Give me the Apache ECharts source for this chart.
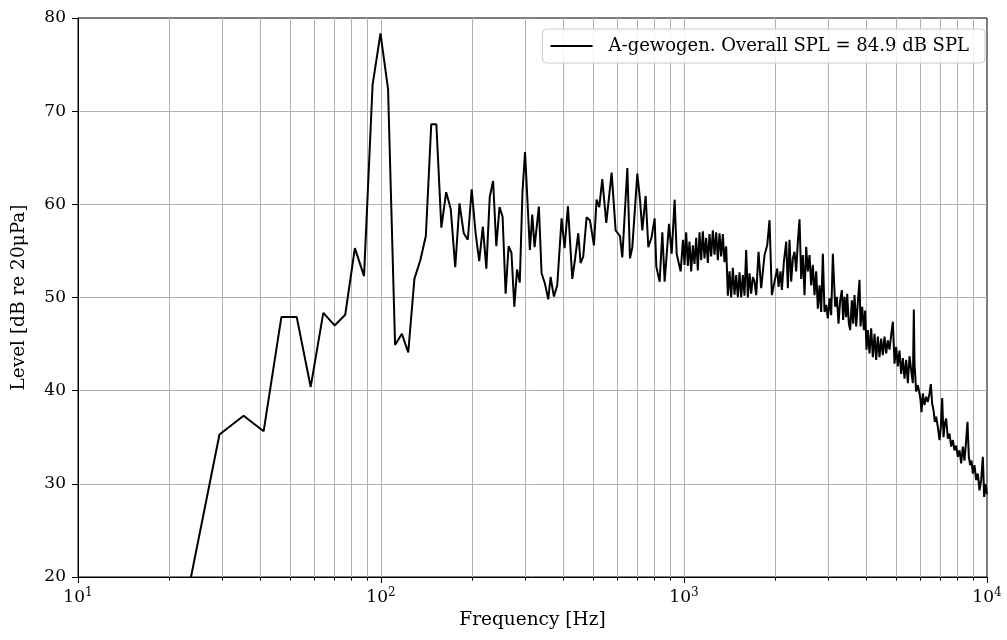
<!DOCTYPE html>
<html><head><meta charset="utf-8">
<script src="https://cdn.jsdelivr.net/npm/echarts@6/dist/echarts.min.js"></script>
<style>html,body{margin:0;padding:0;background:#fff}#c{width:1007px;height:640px}</style>
</head><body><div id="c"></div>
<script>
// Frequency (Hz) and A-weighted level (dB re 20 uPa)
const freqHz = [
23.4,29.3,35.2,41.0,46.9,52.7,58.6,64.5,70.3,76.2,82.0,87.9,93.8,99.6,105.5,111.3,117.2,123.0,128.9,134.8,
140.6,146.5,152.3,158.2,164.1,169.9,175.8,181.6,187.5,193.4,199.2,205.1,210.9,216.8,222.7,228.5,234.4,240.2,246.1,251.9,
257.8,263.7,269.5,275.4,281.2,287.1,293.0,298.8,
310.0,315.6,321.2,331.9,338.8,347.5,356.5,362.8,372.1,381.6,394.5,403.6,414.0,427.9,436.5,447.7,455.7,465.0,477.0,489.3,
504.4,514.7,525.3,537.4,554.0,577.0,594.8,614.7,625.7,650.1,663.4,675.2,701.4,715.7,728.5,747.2,762.5,782.1,800.1,810.3,
831.1,848.1,863.3,892.2,910.6,931.5,945.8,974.9,992.4,
1003.8,1016.6,1029.5,1042.7,1056.0,1069.4,1083.0,1096.9,1110.8,1125.0,1139.3,1153.9,1168.6,1183.5,1198.6,1213.9,1229.3,1245.0,1260.9,1277.0,
1293.2,1309.7,1326.4,1343.3,1360.4,1377.8,1395.3,1413.2,1431.2,1449.4,1467.9,1486.6,1505.6,1524.8,1544.2,1563.9,1583.9,1604.0,1624.5,1645.2,
1666.2,1687.4,
1709.0,1730.8,1761.8,1797.9,1844.0,1881.8,1915.4,1949.7,1989.6,2030.3,2051.0,2082.4,2103.6,2135.8,2174.0,2201.7,2229.7,2258.1,2286.9,2316.1,
2345.6,2375.5,2405.8,2436.4,2467.5,2498.9,2530.8,2563.0,2595.7,2628.8,2662.2,2696.2,2730.5,2765.3,2800.6,2836.3,2872.4,2909.0,2946.1,2983.6,
3021.6,3060.1,3099.1,
3154.7,3195.0,3235.7,3276.9,3318.7,3352.5,3386.6,3429.8,3455.9,3500.0,3535.6,3580.6,3617.1,3653.9,3700.5,3747.6,3795.4,3824.3,3873.0,3922.4,
3962.3,4002.7,4043.5,4095.0,4147.2,4200.1,4253.6,4307.8,4362.7,4418.3,4474.6,4531.6,4589.4,4647.9,4707.1,4767.1,4827.8,4889.4,4951.7,5014.8,
5078.7,5143.4,5209.0,5275.4,5342.6,
5411.0,5480.0,5549.8,5620.5,5692.1,5735.0,5764.7,5838.2,5912.6,5987.9,6033.6,6079.5,6141.4,6219.7,6298.9,6379.2,6460.5,6526.3,6592.8,6660.0,
6727.8,6796.3,6882.9,6970.5,7041.5,7113.2,7185.7,7258.8,7332.8,7426.2,7520.8,7616.6,7713.6,7811.9,7911.4,8012.2,8114.3,8217.6,8322.3,8428.3,
8535.7,8622.6,8710.4,8799.1,8888.7,8979.2,9093.6,9209.4,9326.7,9445.5,9565.8,9687.7,9786.3,9885.9,9986.7
];
const levelDb = [
19.4,35.3,37.3,35.65,47.9,47.9,40.4,48.35,47.0,48.15,55.3,52.3,72.8,78.35,72.4,44.9,46.1,44.1,52.0,54.0,
56.6,68.6,68.6,57.5,61.3,59.5,53.25,60.1,56.9,56.2,61.6,57.0,53.9,57.6,53.1,60.8,62.5,55.5,59.7,58.7,
50.4,55.5,54.8,49.0,53.0,51.6,61.3,65.6,
55.1,58.9,55.4,59.75,52.6,51.5,49.8,52.2,50.1,51.3,58.5,55.3,59.8,52.0,54.0,56.9,53.7,54.4,58.6,58.3,
55.6,60.5,59.7,62.7,58.0,63.4,57.2,56.6,54.3,63.9,54.2,55.4,63.3,60.5,57.2,60.9,55.4,56.5,58.5,53.3,
51.7,57.0,51.7,57.9,54.7,60.5,54.7,52.8,56.2,
53.5,57.0,53.4,56.0,52.8,55.6,53.6,56.4,52.9,57.0,54.0,57.1,54.2,56.4,53.7,56.8,54.4,57.2,54.6,57.0,
54.0,56.9,54.4,56.8,53.8,55.5,50.2,52.8,50.0,53.2,50.3,52.4,50.0,52.7,50.0,52.4,50.2,55.1,50.0,52.6,
50.4,52.2,
51.7,50.25,54.9,51.0,54.55,55.6,58.3,50.25,51.7,53.1,51.15,52.8,50.8,53.8,56.0,51.0,56.2,51.7,54.2,54.9,
52.8,56.0,58.4,52.0,54.55,50.25,55.45,52.8,54.55,51.3,53.5,50.25,52.8,48.8,51.3,48.45,54.7,48.45,49.2,47.75,
49.9,48.1,54.7,
49.0,50.07,47.2,49.7,50.8,47.6,50.07,47.9,50.4,47.2,46.5,49.7,47.2,50.25,46.9,49.5,51.9,46.9,49.0,46.5,
48.6,44.4,46.5,44.0,46.7,43.6,46.1,43.3,45.8,43.6,45.6,43.8,45.8,44.0,45.4,44.4,46.0,47.4,42.9,44.7,
42.6,44.3,41.8,43.5,41.3,
43.3,40.8,43.7,42.2,40.8,48.7,42.9,39.9,40.6,39.7,39.0,37.7,39.7,38.45,39.35,38.8,39.7,40.7,38.6,37.9,
36.65,37.2,36.1,34.7,36.1,39.2,35.0,36.5,37.0,34.85,35.4,34.0,34.7,33.6,34.1,32.9,33.6,32.2,34.0,32.5,
34.7,36.65,32.9,32.0,32.5,31.1,32.0,30.4,31.1,29.3,30.4,32.9,28.6,30.0,28.9
];
const minorTicks = [20,30,40,50,60,70,80,90,200,300,400,500,600,700,800,900,2000,3000,4000,5000,6000,7000,8000,9000];
const legendLabel = 'A-gewogen. Overall SPL = 84.9 dB SPL';
const xTitle = 'Frequency [Hz]';
const yTitle = 'Level [dB re 20μPa]';

const FONT = 'DejaVu Serif';
const chart = echarts.init(document.getElementById('c'), null, {renderer: 'canvas'});
const data = freqHz.map((f, i) => [f, levelDb[i]]);

const option = {
  animation: false,
  backgroundColor: '#fff',
  grid: {left: 78, top: 18, width: 909, height: 559, show: true, borderColor: '#000', borderWidth: 1, backgroundColor: 'transparent'},
  legend: {
    right: 22, top: 29, padding: [8, 16, 8, 8],
    itemWidth: 42, itemHeight: 2,
    borderColor: '#cccccc', borderWidth: 1, borderRadius: 4,
    backgroundColor: 'rgba(255,255,255,0.85)',
    textStyle: {fontFamily: FONT, fontSize: 18, color: '#000', padding: [0, 0, 0, 11], lineHeight: 18},
    data: [{name: legendLabel, icon: 'rect', itemStyle: {color: '#000'}}]
  },
  xAxis: [{
    type: 'log', logBase: 10, min: 10, max: 10000, position: 'bottom',
    name: xTitle, nameLocation: 'middle', nameGap: 34,
    nameTextStyle: {fontFamily: FONT, fontSize: 18.5, color: '#000'},
    axisLine: {show: true, lineStyle: {color: '#000', width: 1}},
    axisTick: {show: true, length: 6, lineStyle: {color: '#000', width: 1}},
    axisLabel: {
      margin: 10,
      formatter: v => '{b|10}{s|' + Math.round(Math.log10(v)) + '}',
      rich: {
        b: {fontFamily: FONT, fontSize: 17, color: '#000'},
        s: {fontFamily: FONT, fontSize: 12, color: '#000', padding: [0, 0, 9, 0]}
      }
    },
    splitLine: {show: true, showMinLine: false, showMaxLine: false, lineStyle: {color: '#b0b0b0', width: 1}}
  }, {
    type: 'log', logBase: 10, min: 10, max: 10000, position: 'bottom', offset: 0,
    axisLine: {show: false},
    axisTick: {show: true, length: 3.5, customValues: minorTicks, lineStyle: {color: '#000', width: 1}},
    axisLabel: {show: false},
    splitLine: {show: false}
  }],
  yAxis: [{
    type: 'value', min: 20, max: 80, interval: 10,
    name: yTitle, nameLocation: 'middle', nameGap: 49, nameRotate: 90,
    nameTextStyle: {fontFamily: FONT, fontSize: 18.5, color: '#000'},
    axisLine: {show: true, lineStyle: {color: '#000', width: 1}},
    axisTick: {show: true, length: 6, lineStyle: {color: '#000', width: 1}},
    axisLabel: {margin: 12, fontFamily: FONT, fontSize: 17, color: '#000'},
    splitLine: {show: true, showMinLine: false, showMaxLine: false, lineStyle: {color: '#b0b0b0', width: 1}}
  }],
  series: [{
    type: 'line', name: legendLabel, data: data,
    xAxisIndex: 0, yAxisIndex: 0,
    symbol: 'none', showSymbol: false, clip: true, z: 3,
    lineStyle: {color: '#000', width: 2},
    itemStyle: {color: '#000'},
    markLine: {
      silent: true, z: 1, animation: false,
      symbol: ['none', 'none'],
      label: {show: false},
      lineStyle: {color: '#b0b0b0', width: 1, type: 'solid'},
      emphasis: {disabled: true},
      data: minorTicks.map(v => ({xAxis: v}))
    }
  }]
};
chart.setOption(option);
</script>
</body></html>
